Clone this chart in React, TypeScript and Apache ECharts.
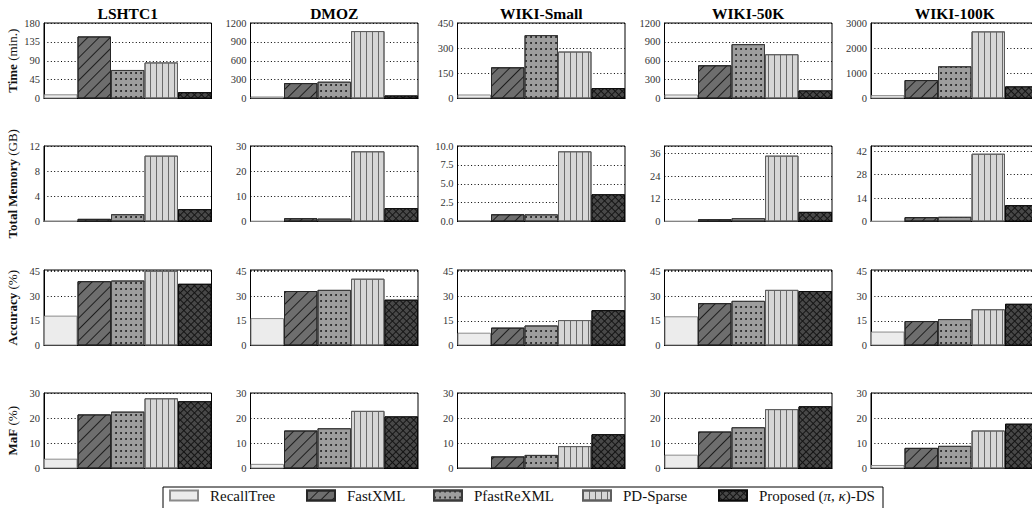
import React, { useEffect, useRef } from 'react';
import * as echarts from 'echarts';

// ---------- data ----------
const datasets = ['LSHTC1', 'DMOZ', 'WIKI-Small', 'WIKI-50K', 'WIKI-100K'];
const methods = ['RecallTree', 'FastXML', 'PfastReXML', 'PD-Sparse', 'Proposed (π, κ)-DS'];

// values per dataset, in method order
const timeMinutes = [
  [10, 148, 68, 86, 15],
  [32, 245, 267, 1072, 48],
  [24, 186, 378, 280, 62],
  [64, 528, 864, 704, 128],
  [133, 733, 1280, 2667, 480],
];
const memoryGB = [
  [0.1, 0.42, 1.16, 10.47, 1.95],
  [0.13, 1.3, 1.15, 27.9, 5.3],
  [0.18, 0.96, 0.95, 9.3, 3.6],
  [0.2, 1.2, 1.75, 34.9, 5.1],
  [0.2, 2.6, 2.8, 40.4, 9.7],
];
const accuracyPct = [
  [18.2, 39.2, 39.6, 45.6, 37.6],
  [16.7, 33.2, 33.9, 40.7, 27.9],
  [7.8, 10.9, 12.2, 15.5, 21.5],
  [17.8, 25.8, 27.2, 33.9, 33.2],
  [8.5, 14.9, 16.1, 22.1, 25.4],
];
const mafPct = [
  [3.9, 21.5, 22.6, 27.9, 26.7],
  [1.85, 15.1, 16.0, 22.9, 20.7],
  [0.5, 4.8, 5.4, 8.9, 13.6],
  [5.5, 14.7, 16.4, 23.6, 24.7],
  [1.4, 8.2, 9.0, 15.1, 17.8],
];

// axis ranges per dataset
const timeMax = [180, 1200, 450, 1200, 3000];
const timeStep = [45, 300, 150, 300, 1000];
const memMax = [12, 30, 10, 40, 45];
const memStep = [4, 10, 2.5, 12, 14];
const memDecimals = [0, 0, 1, 0, 0];
const accMax = [46, 46, 46, 46, 46];
const accStep = [15, 15, 15, 15, 15];
const mafMax = [30, 30, 30, 30, 30];
const mafStep = [10, 10, 10, 10, 10];

const rowNamesBold = ['Time', 'Total Memory', 'Accuracy', 'MaF'];
const rowNamesUnit = ['(min.)', '(GB)', '(%)', '(%)'];

// ---------- layout / style ----------
const COL_LEFT = [44, 250.5, 457.5, 664.5, 871];
const PLOT_W = 167.5;
const ROW_TOP = [23, 146, 270, 393];
const PLOT_H = 75.5;
const SERIF = '"Liberation Serif", "DejaVu Serif", serif';
const NAME_SIZE = 13;

const methodStyles: any[] = [
  { color: '#ececec', borderColor: '#8a8a8a', decal: null },
  {
    color: '#6e6e6e', borderColor: '#262626',
    decal: { symbol: 'rect', symbolSize: 1, dashArrayX: [1, 0], dashArrayY: [1, 7], rotation: -Math.PI / 4, color: '#1e1e1e' },
  },
  {
    color: '#9d9d9d', borderColor: '#3a3a3a',
    decal: { symbol: 'circle', symbolSize: 0.9, dashArrayX: [2, 3], dashArrayY: [2, 4], rotation: 0, color: '#151515' },
  },
  {
    color: '#d6d6d6', borderColor: '#5e5e5e',
    decal: { symbol: 'rect', symbolSize: 1, dashArrayX: [1, 5], dashArrayY: [1, 0], rotation: 0, color: '#6a6a6a' },
  },
  {
    color: '#141414', borderColor: '#0a0a0a',
    decal: { symbol: 'rect', symbolSize: 1, dashArrayX: [4, 1], dashArrayY: [4, 1], rotation: Math.PI / 4, color: '#484848' },
  },
];

const legendLeft = [169, 306, 433, 582, 718];

function measure(text: string, font: string): number {
  const cv = document.createElement('canvas');
  const ctx = cv.getContext('2d');
  if (!ctx) return text.length * 6;
  ctx.font = font;
  return ctx.measureText(text).width;
}

function buildOption() {
  const rows = [
    { values: timeMinutes, max: timeMax, step: timeStep, dec: [0, 0, 0, 0, 0] },
    { values: memoryGB, max: memMax, step: memStep, dec: memDecimals },
    { values: accuracyPct, max: accMax, step: accStep, dec: [0, 0, 0, 0, 0] },
    { values: mafPct, max: mafMax, step: mafStep, dec: [0, 0, 0, 0, 0] },
  ];
  const grid: any[] = [];
  const xAxis: any[] = [];
  const yAxis: any[] = [];
  const series: any[] = [];
  let gi = 0;
  rows.forEach((row, r) => {
    datasets.forEach((ds, c) => {
      grid.push({
        left: COL_LEFT[c], top: ROW_TOP[r], width: PLOT_W, height: PLOT_H,
        show: true, borderColor: '#000', borderWidth: 1, backgroundColor: 'transparent',
      });
      xAxis.push({
        type: 'category', gridIndex: gi, data: [ds],
        axisLine: { show: true, lineStyle: { color: '#000', width: 1 } },
        axisTick: { show: false }, axisLabel: { show: false }, splitLine: { show: false },
      });
      const step = row.step[c];
      const dec = row.dec[c];
      yAxis.push({
        type: 'value', gridIndex: gi, min: 0, max: row.max[c], interval: step,
        axisLine: { show: true, lineStyle: { color: '#000', width: 1 } },
        axisTick: { show: false },
        axisLabel: {
          fontFamily: SERIF, fontSize: 10.5, color: '#333', margin: 4,
          formatter: (v: number) => {
            const k = v / step;
            return Math.abs(k - Math.round(k)) < 1e-6 ? v.toFixed(dec) : '';
          },
        },
        splitLine: { show: true, lineStyle: { color: '#000', width: 1, type: [1, 2.4] } },
      });
      methods.forEach((m, k) => {
        const st = methodStyles[k];
        const itemStyle: any = { color: st.color, borderColor: st.borderColor, borderWidth: 1 };
        if (st.decal) itemStyle.decal = st.decal;
        series.push({
          type: 'bar', name: m, xAxisIndex: gi, yAxisIndex: gi,
          data: [row.values[c][k]],
          barGap: '0%', barCategoryGap: '0%',
          itemStyle, emphasis: { disabled: true },
        });
      });
      gi++;
    });
  });

  const legend = methods.map((m, k) => ({
    data: [m], left: legendLeft[k], top: 488, padding: 0, itemGap: 0,
    itemWidth: 28, itemHeight: 10, icon: 'rect', selectedMode: false,
    formatter: (name: string) => name.replace('π', '{i|π}').replace('κ', '{i|κ}'),
    textStyle: {
      fontFamily: SERIF, fontSize: 15, color: '#111', padding: [0, 0, 0, 7],
      rich: { i: { fontFamily: SERIF, fontSize: 15, fontStyle: 'italic', color: '#111' } },
    },
  }));

  const graphic: any[] = datasets.map((ds, c) => ({
    type: 'text', x: COL_LEFT[c] + PLOT_W / 2, y: 13,
    style: { text: ds, fontFamily: SERIF, fontSize: 15.5, fontWeight: 'bold', fill: '#000', align: 'center', verticalAlign: 'middle' },
  }));

  const boldFont = `bold ${NAME_SIZE}px "Liberation Serif"`;
  const normFont = `${NAME_SIZE}px "Liberation Serif"`;
  rowNamesBold.forEach((nm, r) => {
    const unit = ' ' + rowNamesUnit[r];
    const wb = measure(nm, boldFont);
    const wn = measure(unit, normFont);
    const total = wb + wn;
    const yc = ROW_TOP[r] + PLOT_H / 2;
    const yStart = yc + total / 2; // text reads bottom-to-top
    graphic.push({
      type: 'text', x: 12, y: yStart, rotation: Math.PI / 2,
      style: {
        text: nm, fontFamily: SERIF, fontSize: NAME_SIZE, fontWeight: 'bold', fill: '#111',
        align: 'left', verticalAlign: 'middle',
      },
    });
    graphic.push({
      type: 'text', x: 12, y: yStart - wb, rotation: Math.PI / 2,
      style: {
        text: unit, fontFamily: SERIF, fontSize: NAME_SIZE, fontWeight: 'normal', fill: '#111',
        align: 'left', verticalAlign: 'middle',
      },
    });
  });
  graphic.push({
    type: 'rect', shape: { x: 163, y: 487, width: 720, height: 40 },
    style: { fill: 'none', stroke: '#000', lineWidth: 1 }, silent: true,
  });

  return {
    animation: false,
    backgroundColor: '#fff',
    grid, xAxis, yAxis, series, legend, graphic,
  };
}

export default function App() {
  const ref = useRef<HTMLDivElement>(null);
  useEffect(() => {
    if (!ref.current) return;
    const chart = echarts.init(ref.current, undefined, { renderer: 'svg' });
    chart.setOption(buildOption() as any);
    return () => chart.dispose();
  }, []);
  return (
    <div style={{ position: 'fixed', left: 0, top: 0, width: 1032, height: 508, overflow: 'hidden', background: '#fff' }}>
      <div ref={ref} style={{ width: 1040, height: 508 }} />
    </div>
  );
}
